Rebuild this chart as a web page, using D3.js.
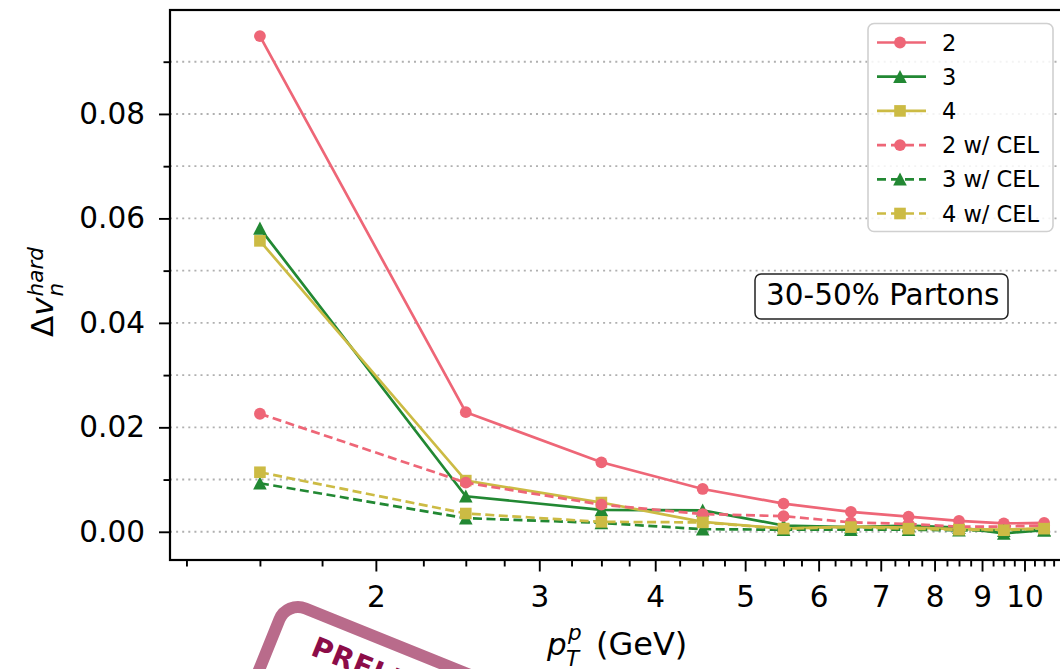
<!DOCTYPE html>
<html>
<head>
<meta charset="utf-8">
<script src="https://cdn.jsdelivr.net/npm/d3@7"></script>
<style>
  body { margin: 0; background: #fff; }
  svg { display: block; font-family: "DejaVu Sans", sans-serif; }
</style>
</head>
<body>
<div id="chart"></div>
<script>
// pT bins (GeV)
const ptBins = [1.5, 2.5, 3.5, 4.5, 5.5, 6.5, 7.5, 8.5, 9.5, 10.5];

// delta v_n^hard, without CEL
const dv2 = [0.0949, 0.0229, 0.0133, 0.0082, 0.0054, 0.0038, 0.0029, 0.0021, 0.0016, 0.0017];
const dv3 = [0.0581, 0.0068, 0.0042, 0.0041, 0.0012, 0.0009, 0.0012, 0.0008, -0.0003, 0.0003];
const dv4 = [0.0557, 0.0098, 0.0056, 0.0019, 0.0006, 0.0010, 0.0008, 0.0005, 0.0004, 0.0007];

// with CEL
const dv2cel = [0.0226, 0.0094, 0.0052, 0.0034, 0.0030, 0.0018, 0.0015, 0.0010, 0.0010, 0.0012];
const dv3cel = [0.0093, 0.0026, 0.0017, 0.0005, 0.0004, 0.0004, 0.0004, 0.0003, 0.0002, 0.0003];
const dv4cel = [0.0114, 0.0035, 0.0019, 0.0018, 0.0006, 0.0009, 0.0006, 0.0004, 0.0003, 0.0006];

const seriesNames = ['2', '3', '4', '2 w/ CEL', '3 w/ CEL', '4 w/ CEL'];

const xMajorTicks = [2, 3, 4, 5, 6, 7, 8, 9, 10];
const yMajorTicks = [0, 0.02, 0.04, 0.06, 0.08];
const yMinorTicks = [0.01, 0.03, 0.05, 0.07, 0.09];

const W = 1060, H = 669;
const margin = { top: 10, left: 170, bottom: 560, right: 1068 };

const colors = { 2: '#EE6677', 3: '#228833', 4: '#CCBB44' };

const series = [
    { name: seriesNames[0], values: dv2, color: colors[2], dash: null, shape: 'circle' },
    { name: seriesNames[1], values: dv3, color: colors[3], dash: null, shape: 'triangle' },
    { name: seriesNames[2], values: dv4, color: colors[4], dash: null, shape: 'square' },
    { name: seriesNames[3], values: dv2cel, color: colors[2], dash: '9,4.5', shape: 'circle' },
    { name: seriesNames[4], values: dv3cel, color: colors[3], dash: '9,4.5', shape: 'triangle' },
    { name: seriesNames[5], values: dv4cel, color: colors[4], dash: '9,4.5', shape: 'square' }
];

const svg = d3.select('#chart').append('svg')
    .attr('width', W)
    .attr('height', H)
    .attr('viewBox', `0 0 ${W} ${H}`);

const xScale = d3.scaleLog()
    .domain([1.2, 11.14])
    .range([margin.left, margin.right]);

const yScale = d3.scaleLinear()
    .domain([-0.0054, 0.0999])
    .range([margin.bottom, margin.top]);

// grid lines (dotted, major + minor)
svg.append('g')
    .selectAll('line')
    .data(yMajorTicks.concat(yMinorTicks))
    .enter()
    .append('line')
    .attr('x1', margin.left)
    .attr('x2', margin.right)
    .attr('y1', d => yScale(d))
    .attr('y2', d => yScale(d))
    .attr('stroke', '#b0b0b0')
    .attr('stroke-width', 1.9)
    .attr('stroke-dasharray', '2,4.1');

// markers
function marker(sel, shape, color) {
    if (shape === 'circle') {
        sel.append('circle').attr('r', 5.9).attr('fill', color);
    } else if (shape === 'triangle') {
        sel.append('path').attr('d', 'M0,-6.8L6.8,6.3L-6.8,6.3Z').attr('fill', color);
    } else {
        sel.append('rect').attr('x', -5.8).attr('y', -5.8)
            .attr('width', 11.6).attr('height', 11.6).attr('fill', color);
    }
}

const line = d3.line()
    .x(d => xScale(d[0]))
    .y(d => yScale(d[1]));

const plot = svg.append('g');

series.forEach(s => {
    const pts = ptBins.map((x, i) => [x, s.values[i]]);
    const g = plot.append('g');
    g.append('path')
        .attr('d', line(pts))
        .attr('fill', 'none')
        .attr('stroke', s.color)
        .attr('stroke-width', 2.7)
        .attr('stroke-dasharray', s.dash);
    g.selectAll('.pt')
        .data(pts)
        .enter()
        .append('g')
        .attr('class', 'pt')
        .attr('transform', d => `translate(${xScale(d[0])},${yScale(d[1])})`)
        .each(function() { marker(d3.select(this), s.shape, s.color); });
});

// axes
const yAxis = d3.axisLeft(yScale)
    .tickValues(yMajorTicks)
    .tickFormat(d3.format('.2f'))
    .tickSize(11)
    .tickPadding(14);
const yAxisMinor = d3.axisLeft(yScale)
    .tickValues(yMinorTicks)
    .tickFormat('')
    .tickSize(6.5);

const xMinorTicks = d3.range(1.25, 11.1, 0.25).filter(d => d % 1 !== 0);
const xAxis = d3.axisBottom(xScale)
    .tickValues(xMajorTicks)
    .tickFormat(d3.format('d'))
    .tickSize(11.5)
    .tickPadding(15);
const xAxisMinor = d3.axisBottom(xScale)
    .tickValues(xMinorTicks)
    .tickFormat('')
    .tickSize(6.5);

function styleAxis(g) {
    g.select('.domain').remove();
    g.selectAll('line').attr('stroke', '#000').attr('stroke-width', 1.9);
    g.selectAll('text')
        .attr('fill', '#000')
        .style('font-size', '29.5px')
        .style('font-family', '"DejaVu Sans", sans-serif');
}

svg.append('g').attr('transform', `translate(${margin.left},0)`).call(yAxis).call(styleAxis);
svg.append('g').attr('transform', `translate(${margin.left},0)`).call(yAxisMinor).call(styleAxis);
svg.append('g').attr('transform', `translate(0,${margin.bottom})`).call(xAxis).call(styleAxis);
svg.append('g').attr('transform', `translate(0,${margin.bottom})`).call(xAxisMinor).call(styleAxis);

// frame
svg.append('rect')
    .attr('x', margin.left)
    .attr('y', margin.top)
    .attr('width', margin.right - margin.left)
    .attr('height', margin.bottom - margin.top)
    .attr('fill', 'none')
    .attr('stroke', '#000')
    .attr('stroke-width', 2.2);

// legend
const legend = svg.append('g');
legend.append('rect')
    .attr('x', 868).attr('y', 23.5)
    .attr('width', 185).attr('height', 208)
    .attr('rx', 6)
    .attr('fill', 'rgba(255,255,255,0.85)')
    .attr('stroke', '#d0d0d0')
    .attr('stroke-width', 1.6);

series.forEach((s, i) => {
    const ly = 42.5 + i * 34.2;
    const row = legend.append('g').attr('transform', `translate(0,${ly})`);
    row.append('line')
        .attr('x1', 877).attr('x2', 926)
        .attr('stroke', s.color)
        .attr('stroke-width', 2.7)
        .attr('stroke-dasharray', s.dash ? '9,5' : null);
    marker(row.append('g').attr('transform', 'translate(900,0)'), s.shape, s.color);
    row.append('text')
        .attr('x', 942)
        .attr('y', 8)
        .style('font-size', '22.5px')
        .text(s.name);
});

// annotation
svg.append('rect')
    .attr('x', 755).attr('y', 274)
    .attr('width', 253).attr('height', 45)
    .attr('rx', 6)
    .attr('fill', '#fff')
    .attr('stroke', '#222')
    .attr('stroke-width', 1.5);
svg.append('text')
    .attr('x', 766).attr('y', 305)
    .style('font-size', '29.5px')
    .text('30-50% Partons');

// y label
const yl = svg.append('g').attr('transform', 'translate(53,337) rotate(-90)');
const ymain = yl.append('text').style('font-size', '31px');
ymain.append('tspan').text('Δ');
ymain.append('tspan').style('font-style', 'italic').text('v');
const yw = ymain.node().getComputedTextLength();
yl.append('text').attr('x', yw + 1).attr('y', -10)
    .style('font-size', '21.5px').style('font-style', 'italic').text('hard');
yl.append('text').attr('x', yw + 1).attr('y', 10)
    .style('font-size', '21.5px').style('font-style', 'italic').text('n');

// x label
const xl = svg.append('g');
xl.append('text').attr('x', 547).attr('y', 655)
    .style('font-size', '31px').style('font-style', 'italic').text('p');
xl.append('text').attr('x', 568).attr('y', 640)
    .style('font-size', '21.5px').style('font-style', 'italic').text('p');
xl.append('text').attr('x', 566).attr('y', 666)
    .style('font-size', '21.5px').style('font-style', 'italic').text('T');
xl.append('text').attr('x', 596).attr('y', 655)
    .style('font-size', '32px').text('(GeV)');

// preliminary stamp
const stamp = svg.append('g').attr('transform', 'translate(283.6,593.2) rotate(22)');
stamp.append('rect')
    .attr('x', 6).attr('y', 6)
    .attr('width', 430).attr('height', 150)
    .attr('rx', 20)
    .attr('fill', 'none')
    .attr('stroke', '#b96b8b')
    .attr('stroke-width', 12);
stamp.append('text')
    .attr('x', 47).attr('y', 47)
    .attr('fill', '#8c0c48')
    .style('font-size', '28px')
    .style('font-weight', 'bold')
    .style('letter-spacing', '1px')
    .text('PRELIMINARY');
</script>
</body>
</html>
